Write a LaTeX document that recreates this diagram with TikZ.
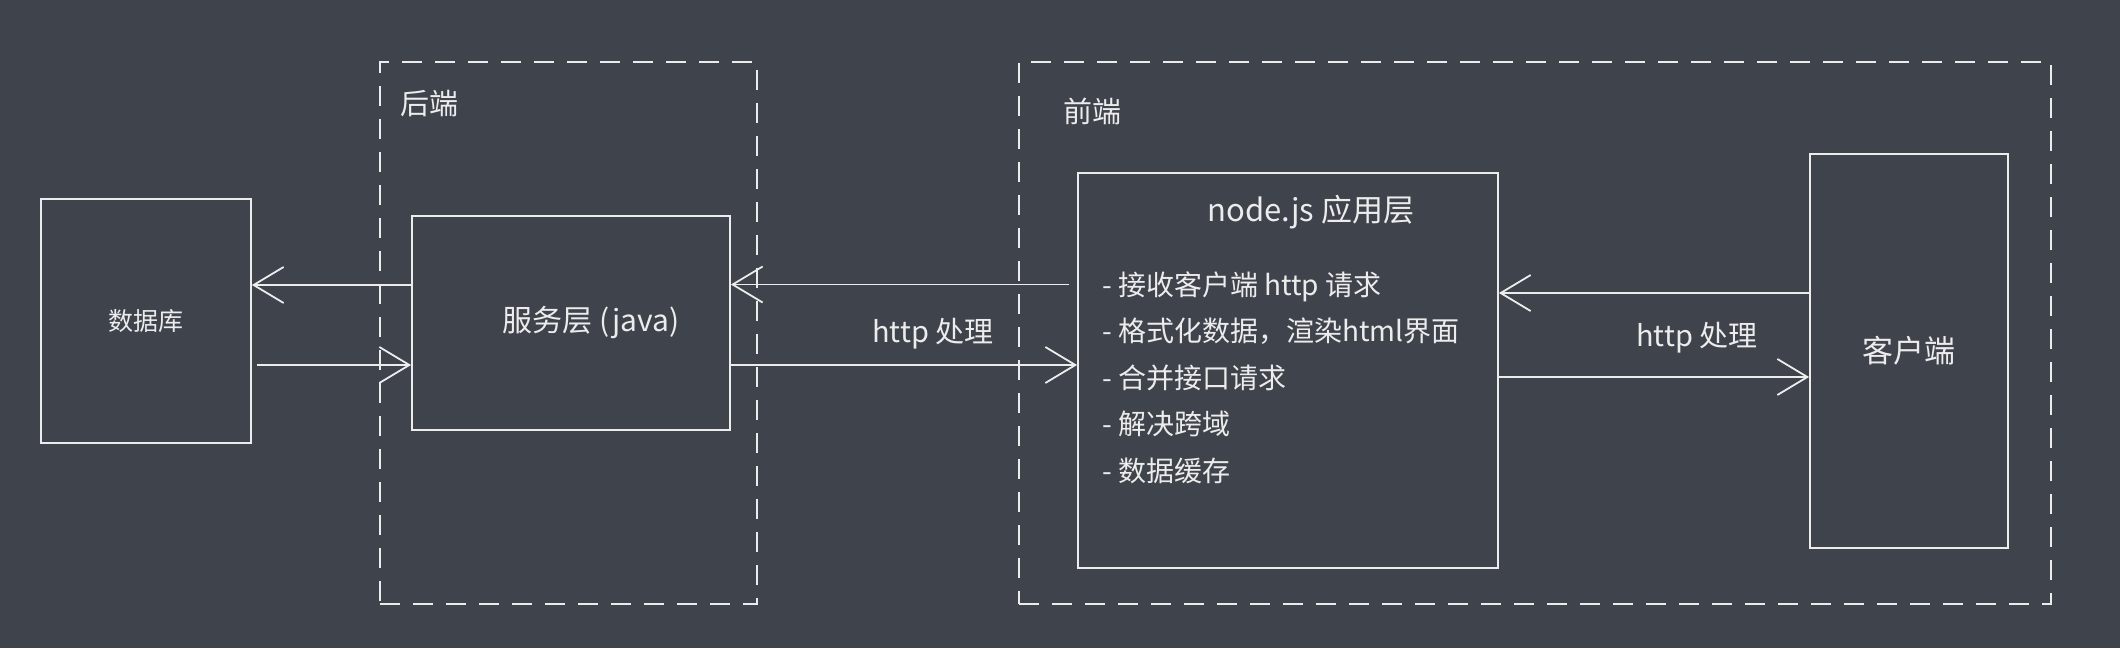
\documentclass[tikz,border=0pt]{standalone}
\usepackage{fontspec}
\setmainfont{Noto Sans CJK SC}
\usetikzlibrary{arrows.meta,positioning}

\definecolor{bgcol}{RGB}{63,67,76}
\definecolor{ink}{RGB}{236,236,236}

\tikzstyle{box} = [draw=ink,line width=1.8pt,rectangle,inner sep=0pt,text=ink]
\tikzstyle{zone} = [draw=ink,line width=1.6pt,dash pattern=on 20pt off 13pt,rectangle,inner sep=0pt]
\tikzstyle{lbl} = [text=ink,inner sep=0pt]
\tikzstyle{arr} = [draw=ink,line width=1.8pt,-{Straight Barb[length=30pt,width=36pt,line width=1.8pt]}]

\begin{document}
\begin{tikzpicture}[x=1pt,y=-1pt]
	\fill[bgcol] (0,0) rectangle (2120,648);
	\useasboundingbox (0,0) rectangle (2120,648);

	% zones
	\node[zone,minimum width=377pt,minimum height=542pt] (backend) at (568.5,333) {};
	\node[zone,minimum width=1032pt,minimum height=542pt] (frontend) at (1535,333) {};
	\node[lbl,font=\fontsize{29}{34}\selectfont] (backtitle) at (429,104) {后端};
	\node[lbl,font=\fontsize{29}{34}\selectfont] (fronttitle) at (1092,111) {前端};

	% boxes
	\node[box,minimum width=210pt,minimum height=244pt,font=\fontsize{25}{30}\selectfont] (db) at (146,321) {数据库};
	\node[box,minimum width=318pt,minimum height=214pt,font=\fontsize{30}{36}\selectfont] (svc) at (571,323) {\hspace{40pt}服务层 (java)};
	\node[box,minimum width=420pt,minimum height=395pt] (app) at (1288,370.5) {};
	\node[box,minimum width=198pt,minimum height=394pt,font=\fontsize{31}{36}\selectfont] (client) at (1909,351) {客户端};

	\node[lbl,font=\fontsize{31}{36}\selectfont] (apptitle) at (1311,212) {node.js 应用层};
	\node[lbl,anchor=west,align=left,font=\fontsize{28}{46.4}\selectfont] (tasks) at (1102,377.5) {- 接收客户端 http 请求\\- 格式化数据，渲染html界面\\- 合并接口请求\\- 解决跨域\\- 数据缓存};

	\node[lbl,font=\fontsize{29}{34}\selectfont] (http1) at (933,334) {http 处理};
	\node[lbl,font=\fontsize{29}{34}\selectfont] (http2) at (1697,338) {http 处理};

	% arrows
	\coordinate (a1) at ([yshift=38pt]svc.west);
	\coordinate (a2) at ([yshift=-44pt]db.east);
	\coordinate (a3) at ([yshift=86pt]app.west);
	\coordinate (a4) at ([yshift=-42pt]svc.east);
	\coordinate (a5) at ([yshift=58pt]client.west);
	\coordinate (a6) at ([yshift=-6.5pt]app.east);

	\draw[arr] (a1) -- (a1 -| db.east);
	\draw[arr] ([xshift=5pt]a2) -- (a2 -| svc.west);
	\draw[arr] ([xshift=-8pt]a3) -- (a3 -| svc.east);
	\draw[arr] (a4) -- (a4 -| app.west);
	\draw[arr] (a5) -- (a5 -| app.east);
	\draw[arr] (a6) -- (a6 -| client.west);
\end{tikzpicture}
\end{document}
